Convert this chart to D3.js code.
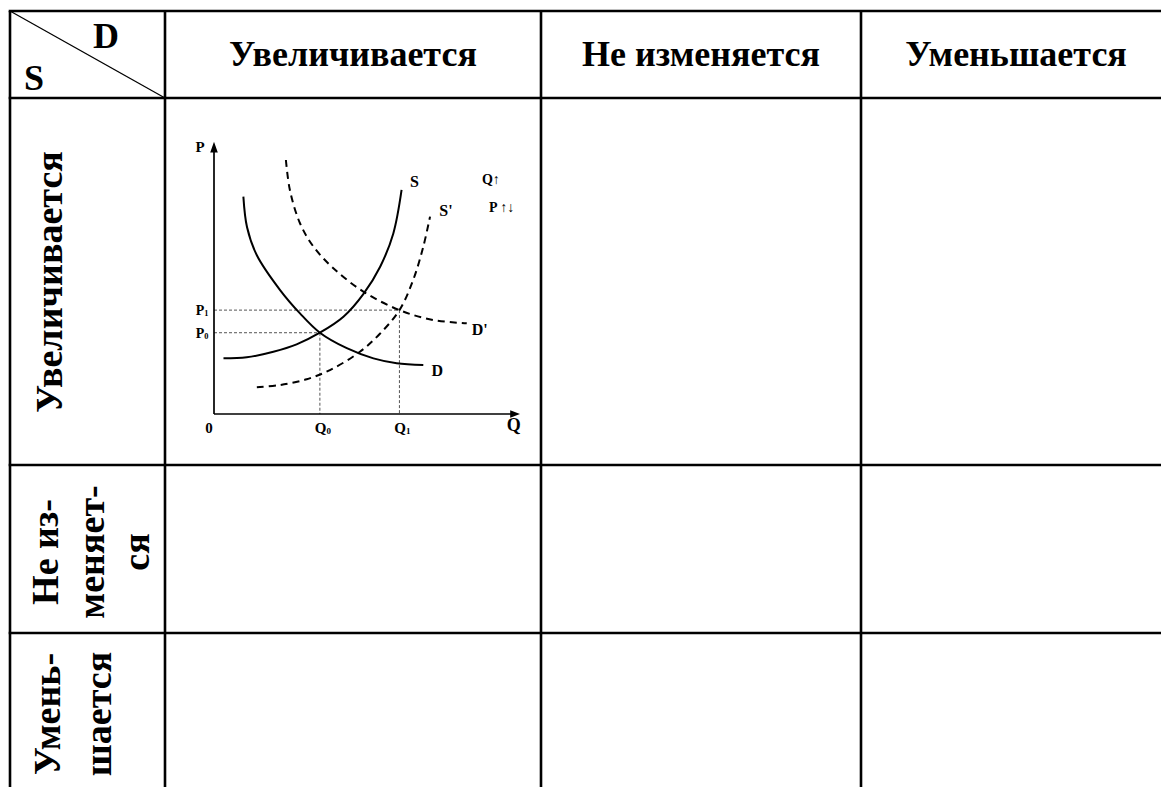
<!DOCTYPE html>
<html><head><meta charset="utf-8">
<script src="https://cdn.jsdelivr.net/npm/d3@7"></script>
<style>body{margin:0;background:#fff}svg{display:block}</style>
</head><body>
<svg id="c" width="1161" height="787"></svg>
<script>
// ---------- data ----------
const colHeaders = ["Увеличивается", "Не изменяется", "Уменьшается"];
const rowHeaders = [["Увеличивается"], ["Не из-", "меняет-", "ся"], ["Умень-", "шается"]];
const cornerLabels = ["D", "S"];
// curves in (Q, P) units
const supplyS  = [[0.31,2.19],[1.07,2.23],[1.94,2.45],[2.70,2.74],[3.46,3.20],[4.23,3.83],[4.88,4.72],[5.43,5.80],[5.86,7.11],[6.13,8.82]];
const demandD  = [[0.96,8.56],[1.08,7.35],[1.40,6.25],[2.16,4.88],[2.81,3.96],[3.46,3.20],[4.34,2.59],[5.21,2.19],[5.97,2.00],[6.84,1.93]];
const supplyS2 = [[1.40,1.05],[2.16,1.14],[3.03,1.37],[3.79,1.73],[4.77,2.45],[5.43,3.17],[6.06,4.09],[6.51,5.28],[6.84,6.59],[7.06,7.77]];
const demandD2 = [[2.35,10.0],[2.48,8.82],[2.81,7.51],[3.25,6.59],[3.90,5.74],[4.88,4.82],[6.06,4.09],[7.17,3.70],[8.26,3.57]];
const eqQ = [3.46, 6.06];
const eqP = [3.20, 4.09];
const qTickSubs = ["0", "1"];
const pTickSubs = ["0", "1"];
const curveLabels = ["S", "D", "S'", "D'"];
const noteLabels = ["Q↑", "P ↑↓"];

// ---------- layout ----------
const svg = d3.select("#c");
const FONT = "'Liberation Serif','Times New Roman',serif";
const colX = [10, 165, 541, 861, 1175];
const rowY = [11, 98, 465, 633, 800];
const W = 1161;

const grid = svg.append("g").attr("stroke", "#000").attr("stroke-width", 2.6);
rowY.slice(0, 4).forEach(y => grid.append("line").attr("x1", colX[0] - 1.3).attr("x2", W + 5).attr("y1", y).attr("y2", y));
colX.slice(0, 4).forEach(x => grid.append("line").attr("x1", x).attr("x2", x).attr("y1", rowY[0]).attr("y2", 790));
svg.append("line").attr("x1", colX[0]).attr("y1", rowY[0]).attr("x2", colX[1]).attr("y2", rowY[1])
  .attr("stroke", "#000").attr("stroke-width", 1.3);

// corner
svg.append("text").attr("x", 106).attr("y", 48).attr("text-anchor", "middle")
  .attr("font-family", FONT).attr("font-weight", "bold").attr("font-size", 36).text(cornerLabels[0]);
svg.append("text").attr("x", 34).attr("y", 90).attr("text-anchor", "middle")
  .attr("font-family", FONT).attr("font-weight", "bold").attr("font-size", 36).text(cornerLabels[1]);

// column headers
const colCenters = [353, 701, 1016];
svg.selectAll("text.ch").data(colHeaders).join("text").attr("class", "ch")
  .attr("x", (d, i) => colCenters[i]).attr("y", 66).attr("text-anchor", "middle")
  .attr("font-family", FONT).attr("font-weight", "bold").attr("font-size", 36).text(d => d);

// row headers (rotated)
const rowCenters = [282, 552, 714];
const lineBase = [[62], [58, 104, 149], [60, 111]];
rowHeaders.forEach((lines, i) => {
  const g = svg.append("g").attr("transform", `translate(0,${rowCenters[i]}) rotate(-90)`);
  lines.forEach((t, j) => {
    g.append("text").attr("x", 0).attr("y", lineBase[i][j]).attr("text-anchor", "middle")
      .attr("font-family", FONT).attr("font-weight", "bold").attr("font-size", 38).text(t);
  });
});

// ---------- supply/demand chart ----------
const x = d3.scaleLinear().domain([0, 10]).range([214, 520]);
const y = d3.scaleLinear().domain([0, 10]).range([414, 160]);
const ch = svg.append("g");
const line = d3.line().x(d => x(d[0])).y(d => y(d[1])).curve(d3.curveCatmullRom.alpha(0.5));

// guides
const guide = ch.append("g").attr("stroke", "#555").attr("stroke-width", 1).attr("stroke-dasharray", "3,2").attr("fill", "none");
eqQ.forEach((q, i) => {
  guide.append("line").attr("x1", x(0)).attr("x2", x(q)).attr("y1", y(eqP[i])).attr("y2", y(eqP[i]));
  guide.append("line").attr("x1", x(q)).attr("x2", x(q)).attr("y1", y(eqP[i])).attr("y2", y(0));
});

// axes
const ax = ch.append("g").attr("stroke", "#000").attr("stroke-width", 1.7);
ax.append("line").attr("x1", x(0)).attr("x2", x(0)).attr("y1", y(0)).attr("y2", y(10.5));
ax.append("line").attr("x1", x(0)).attr("x2", x(9.8)).attr("y1", y(0)).attr("y2", y(0));
ch.append("path").attr("d", `M${x(0)},${y(10.72)} L${x(0) - 3.8},${y(10.3)} L${x(0) + 3.8},${y(10.3)} Z`).attr("fill", "#000");
ch.append("path").attr("d", `M${x(10)},${y(0)} L${x(9.68)},${y(0) - 3.8} L${x(9.68)},${y(0) + 3.8} Z`).attr("fill", "#000");

// curves
const curves = [
  {d: supplyS, dash: null}, {d: demandD, dash: null},
  {d: supplyS2, dash: "7,5"}, {d: demandD2, dash: "7,5"}
];
ch.selectAll("path.cv").data(curves).join("path").attr("class", "cv")
  .attr("d", c => line(c.d)).attr("fill", "none").attr("stroke", "#000").attr("stroke-width", 2)
  .attr("stroke-dasharray", c => c.dash);

// labels
const lab = (tx, ty, t, fs, anchor) => ch.append("text").attr("x", tx).attr("y", ty)
  .attr("text-anchor", anchor || "middle").attr("font-family", FONT).attr("font-weight", "bold")
  .attr("font-size", fs).text(t);
const sEnd = supplyS[supplyS.length - 1], dEnd = demandD[demandD.length - 1];
const s2End = supplyS2[supplyS2.length - 1], d2End = demandD2[demandD2.length - 1];
lab(x(sEnd[0]) + 13, y(sEnd[1]) - 3, curveLabels[0], 16);
lab(x(dEnd[0]) + 14, y(dEnd[1]) + 11, curveLabels[1], 16);
lab(x(s2End[0]) + 16, y(s2End[1]) - 1, curveLabels[2], 16);
lab(x(d2End[0]) + 13, y(d2End[1]) + 12, curveLabels[3], 16);
lab(x(9.05), y(9.05), noteLabels[0], 14);
lab(x(9.4), y(7.95), noteLabels[1], 14);
lab(x(0) - 14, y(10.3), "P", 15);
lab(x(0) - 5, y(0) + 19, "0", 15);
lab(x(9.8), y(0) + 17, "Q", 18);

function subLabel(tx, ty, main, sub, fs) {
  const t = ch.append("text").attr("x", tx).attr("y", ty).attr("text-anchor", "middle")
    .attr("font-family", FONT).attr("font-weight", "bold").attr("font-size", fs);
  t.append("tspan").text(main);
  t.append("tspan").attr("font-size", fs * 0.6).attr("dy", 1).text(sub);
}
eqQ.forEach((q, i) => subLabel(x(q) + 3, y(0) + 19, "Q", qTickSubs[i], 15));
eqP.forEach((p, i) => subLabel(x(0) - 12, y(p) + 5, "P", pTickSubs[i], 14));
</script>
</body></html>
